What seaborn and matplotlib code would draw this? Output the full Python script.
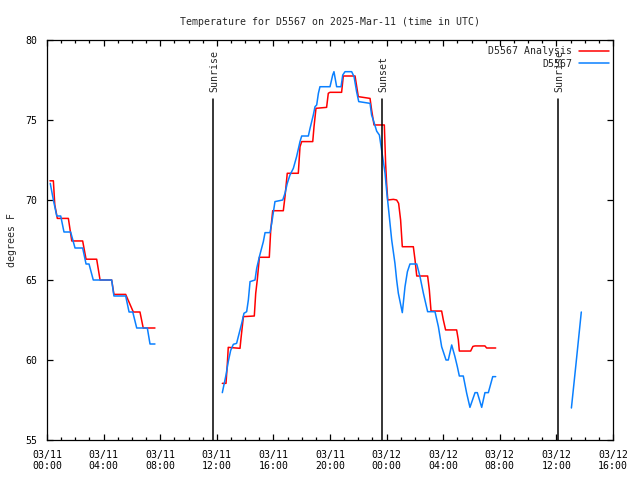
# Temperature chart for station D5567, gnuplot-like look, drawn with seaborn
import pandas as pd
import matplotlib
matplotlib.use("Agg")
from matplotlib import pyplot as plt
from matplotlib.lines import Line2D
import seaborn as sns

# hours since 2025-03-11 00:00 UTC, values in degrees F
analysis_hours_1 = [0.21, 0.45, 0.55, 0.73, 1.51, 1.75, 2.52, 2.76, 3.51, 3.75,
                    4.57, 4.73, 5.56, 6.10, 6.57, 6.80, 7.63]
analysis_temps_1 = [71.2, 71.2, 69.7, 68.85, 68.85, 67.44, 67.44, 66.3, 66.3, 65.0,
                    65.0, 64.1, 64.1, 63.0, 63.0, 62.0, 62.0]

analysis_hours_2 = [12.39, 12.65, 12.74, 12.81, 13.64, 13.71, 13.88, 14.65, 14.75, 14.86,
                    15.01, 15.71, 15.81, 15.95, 16.70, 16.82, 16.98, 17.76, 17.88, 18.00,
                    18.78, 18.87, 19.01, 19.76, 19.88, 20.00, 20.82, 20.94, 21.77, 22.00,
                    22.83, 22.94, 23.11, 23.84, 23.93, 24.00, 24.08, 24.48, 24.71, 24.85,
                    24.99, 25.11, 25.89, 26.01, 26.13, 26.90, 27.02, 27.14, 27.89, 28.01,
                    28.17, 28.95, 29.07, 29.14, 29.94, 30.10, 30.25, 30.95, 31.07, 31.71]
analysis_temps_2 = [58.54, 58.54, 59.69, 60.79, 60.73, 61.35, 62.71, 62.75, 64.17, 65.0,
                    66.42, 66.42, 68.1, 69.33, 69.33, 70.21, 71.67, 71.67, 73.33, 73.65,
                    73.65, 74.58, 75.73, 75.79, 76.67, 76.73, 76.73, 77.75, 77.75, 76.46,
                    76.35, 75.63, 74.69, 74.69, 72.29, 71.04, 70.0, 70.04, 70.0, 69.79,
                    68.75, 67.08, 67.08, 66.25, 65.25, 65.25, 64.38, 63.06, 63.06, 62.5,
                    61.88, 61.88, 61.25, 60.56, 60.56, 60.85, 60.88, 60.88, 60.75, 60.75]

station_hours_1 = [0.23, 0.45, 0.69, 0.97, 1.20, 1.67, 1.98, 2.52, 2.76, 2.97,
                   3.27, 4.57, 4.73, 5.56, 5.80, 6.06, 6.34, 7.09, 7.28, 7.63]
station_temps_1 = [71.04, 70.0, 69.0, 69.0, 68.0, 68.0, 67.0, 67.0, 66.0, 66.0,
                   65.0, 65.0, 64.0, 64.0, 63.0, 63.0, 62.0, 62.0, 61.0, 61.0]

station_hours_2 = [12.39, 12.65, 12.81, 12.98, 13.17, 13.40, 13.52, 13.76, 13.92, 14.11,
                   14.23, 14.35, 14.70, 14.82, 15.01, 15.29, 15.41, 15.76, 15.88, 16.11,
                   16.66, 16.82, 16.98, 17.17, 17.41, 17.64, 17.88, 18.00, 18.47, 18.59,
                   18.82, 18.94, 19.06, 19.18, 19.29, 20.00, 20.19, 20.28, 20.47, 20.78,
                   20.90, 21.06, 21.53, 21.70, 21.88, 22.03, 22.83, 22.94, 23.06, 23.30,
                   23.49, 23.60, 23.77, 23.89, 24.00, 24.12, 24.24, 24.36, 24.59, 24.71,
                   24.83, 25.11, 25.30, 25.47, 25.65, 26.13, 26.36, 26.60, 26.90, 27.42,
                   27.66, 27.89, 28.20, 28.36, 28.60, 28.83, 29.00, 29.14, 29.42, 29.66,
                   29.89, 30.25, 30.41, 30.72, 30.95, 31.19, 31.50, 31.71]
station_temps_2 = [57.96, 59.06, 59.9, 60.6, 60.98, 61.04, 61.46, 62.29, 62.92, 63.02,
                   63.75, 64.9, 65.0, 65.73, 66.46, 67.4, 67.96, 67.96, 68.54, 69.9,
                   70.0, 70.42, 71.04, 71.56, 71.98, 72.71, 73.65, 74.0, 74.0, 74.48,
                   75.31, 75.83, 75.94, 76.67, 77.08, 77.08, 77.81, 78.02, 77.08, 77.08,
                   77.81, 78.02, 78.02, 77.71, 76.77, 76.15, 76.04, 75.31, 75.0, 74.3,
                   74.06, 73.4, 72.4, 71.67, 70.6, 69.58, 68.54, 67.5, 66.04, 65.0,
                   64.17, 62.96, 64.58, 65.52, 66.0, 66.0, 65.21, 64.17, 63.02, 63.02,
                   62.08, 60.83, 60.0, 60.0, 60.94, 60.21, 59.58, 59.0, 59.0, 57.92,
                   57.04, 57.96, 57.96, 57.04, 57.96, 57.96, 58.96, 58.96]

station_hours_3 = [37.06, 37.39, 37.76]
station_temps_3 = [57.0, 59.8, 63.0]

# sunrise / sunset markers (hours)
sun_events = ["Sunrise", "Sunset", "Sunrise"]
sun_hours = [11.75, 23.71, 36.13]

tick_hours = list(range(0, 41, 4))
tick_labels = ["03/11\n00:00", "03/11\n04:00", "03/11\n08:00", "03/11\n12:00",
               "03/11\n16:00", "03/11\n20:00", "03/12\n00:00", "03/12\n04:00",
               "03/12\n08:00", "03/12\n12:00", "03/12\n16:00"]

RED = "#ff0000"
BLUE = "#0a80ff"


def make_frame(parts):
    rows = []
    for seg, (hours, temps) in enumerate(parts):
        rows.append(pd.DataFrame({"hour": hours, "temp": temps, "seg": seg}))
    return pd.concat(rows, ignore_index=True)


analysis = make_frame([(analysis_hours_1, analysis_temps_1),
                       (analysis_hours_2, analysis_temps_2)])
station = make_frame([(station_hours_1, station_temps_1),
                      (station_hours_2, station_temps_2),
                      (station_hours_3, station_temps_3)])

sns.set_style("ticks")
plt.rcParams["font.family"] = ["DejaVu Sans Mono", "DejaVu Sans"]
plt.rcParams["font.size"] = 7.1

fig = plt.figure(figsize=(6.4, 4.8), dpi=100)
ax = fig.add_axes([47 / 640, 40 / 480, 566 / 640, 400 / 480])

sns.lineplot(data=analysis, x="hour", y="temp", units="seg", estimator=None,
             sort=False, color=RED, linewidth=1.1, ax=ax)
sns.lineplot(data=station, x="hour", y="temp", units="seg", estimator=None,
             sort=False, color=BLUE, linewidth=1.1, ax=ax)

# sunrise and sunset lines with their labels
for name, h in zip(sun_events, sun_hours):
    ax.plot([h, h], [55, 76.3], color="black", linewidth=1.1)
    ax.text(h + 0.05, 76.75, name, rotation=90, ha="center", va="bottom", fontsize=7.1)

ax.set_xlim(0, 40)
ax.set_ylim(55, 80)
ax.set_xticks(tick_hours)
ax.set_xticklabels(tick_labels)
ax.set_xticks(range(0, 41), minor=True)
ax.set_yticks(range(55, 81, 5))
ax.tick_params(which="both", direction="in", top=True, right=True, width=0.9,
               labelsize=7.1, color="black", labelcolor="black")
ax.tick_params(which="major", length=4, pad=7)
ax.tick_params(which="minor", length=2.2)
for s in ax.spines.values():
    s.set_linewidth(0.9)
    s.set_color("black")

ax.set_xlabel("")
ax.set_ylabel("degrees F", fontsize=7.1, labelpad=6)
ax.set_title("Temperature for D5567 on 2025-Mar-11 (time in UTC)", fontsize=7.1, pad=11)

handles = [Line2D([], [], color=RED, linewidth=1.1),
           Line2D([], [], color=BLUE, linewidth=1.1)]
ax.legend(handles, ["D5567 Analysis", "D5567"], loc="upper right", frameon=False,
          markerfirst=False, handlelength=3.0, handletextpad=0.7, fontsize=7.1,
          labelspacing=0.25, borderaxespad=0.25, borderpad=0.2,
          bbox_to_anchor=(1.0, 0.995))

fig.savefig("out.png", dpi=100)
